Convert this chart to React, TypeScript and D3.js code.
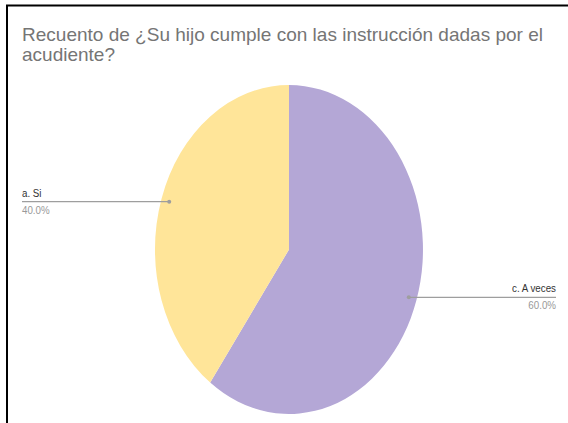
import React from "react";
import * as d3 from "d3";

const categories = ["c. A veces", "a. Si"];
const values = [60, 40];
const colors = ["#b4a7d6", "#ffe599"];
const titleLines = [
  "Recuento de ¿Su hijo cumple con las instrucción dadas por el",
  "acudiente?",
];

const W = 568;
const H = 423;

export default function App() {
  const cx = 289;
  const cy = 249.5;
  const rx = 134;
  const ry = 164.5;
  const total = d3.sum(values);
  const pie = d3.pie<number>().sort(null).value((d) => d);
  const arcs = pie(values);
  const arc = d3.arc<d3.PieArcDatum<number>>().innerRadius(0).outerRadius(1);
  const font = "'Liberation Sans', Arial, sans-serif";

  return (
    <div style={{ position: "fixed", left: 0, top: 0 }}>
      <svg width={W} height={H} style={{ display: "block", background: "#fff" }}>
        <path d={`M7,${H} V5.5 H${W}`} fill="none" stroke="#000" strokeWidth={2} />
        {titleLines.map((t, i) => (
          <text
            key={i}
            x={22}
            y={40.5 + i * 20}
            fontFamily={font}
            fontSize={18.5}
            fill="#757575"
            textLength={i === 0 ? 521 : 93}
            lengthAdjust="spacingAndGlyphs"
          >
            {t}
          </text>
        ))}
        <g transform={`translate(${cx},${cy}) scale(${rx},${ry})`}>
          {arcs.map((a, i) => (
            <path key={i} d={arc(a) || ""} fill={colors[i]} stroke="none" />
          ))}
        </g>
        {arcs.map((a, i) => {
          const mid = (a.startAngle + a.endAngle) / 2;
          const px = cx + Math.sin(mid) * 0.94 * rx;
          const py = cy - Math.cos(mid) * 0.94 * ry;
          const right = Math.sin(mid) > 0;
          const ex = right ? 556 : 22;
          const anchor = right ? "end" : "start";
          const pct = ((values[i] / total) * 100).toFixed(1) + "%";
          return (
            <g key={i}>
              <line x1={px} y1={py} x2={ex} y2={py} stroke="#9e9e9e" strokeWidth={1.2} />
              <circle cx={px} cy={py} r={2} fill="#9e9e9e" />
              <text
                x={ex}
                y={py - 5}
                textAnchor={anchor}
                fontFamily={font}
                fontSize={11.5}
                fill="#333"
                transform={`translate(${ex},0) scale(0.85,1) translate(${-ex},0)`}
              >
                {categories[i]}
              </text>
              <text
                x={ex}
                y={py + 12}
                textAnchor={anchor}
                fontFamily={font}
                fontSize={11.5}
                fill="#999"
                transform={`translate(${ex},0) scale(0.85,1) translate(${-ex},0)`}
              >
                {pct}
              </text>
            </g>
          );
        })}
      </svg>
    </div>
  );
}
